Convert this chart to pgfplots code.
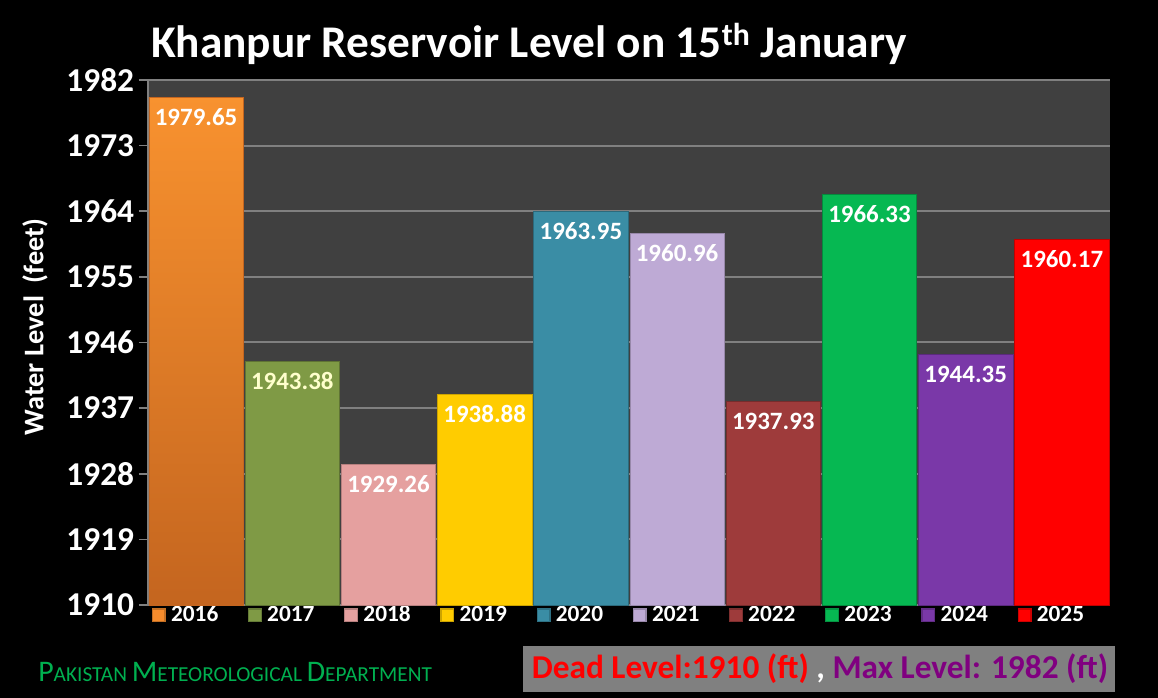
\documentclass[border=0pt]{standalone}
\usepackage{pgfplots}
\pgfplotsset{compat=1.18}
\usepackage{fontspec}
\setmainfont{Carlito}
\definecolor{plotbg}{HTML}{404040}
\definecolor{gridgray}{HTML}{808080}
\definecolor{c16}{HTML}{F58B2C}
\definecolor{c16t}{HTML}{F8922F}
\definecolor{c16b}{HTML}{C4651F}
\definecolor{c17}{HTML}{7F9A45}
\definecolor{c18}{HTML}{E5A09F}
\definecolor{c19}{HTML}{FFCC00}
\definecolor{c20}{HTML}{3A8DA5}
\definecolor{c21}{HTML}{BEAAD5}
\definecolor{c22}{HTML}{9E3B3B}
\definecolor{c23}{HTML}{06B852}
\definecolor{c24}{HTML}{7A38A8}
\definecolor{c25}{HTML}{FF0000}
\definecolor{pmdgreen}{HTML}{00B050}
\definecolor{boxgray}{HTML}{808080}
\definecolor{maxpurple}{HTML}{800080}
\definecolor{cream}{HTML}{FFFFCC}
\newcommand{\key}[1]{\textcolor{#1!80!black}{\rule{10.5pt}{10.5pt}}\hspace{-9.5pt}\raisebox{0.5pt}{\textcolor{#1}{\rule{8.5pt}{8.5pt}}}\hspace{5pt}}
\begin{document}
\begin{tikzpicture}
\useasboundingbox (0pt,0pt) rectangle (868.5pt,523.5pt);
\fill[black] (0pt,0pt) rectangle (868.5pt,523.5pt);
\begin{axis}[
  at={(111pt,69.75pt)}, anchor=south west, scale only axis,
  width=721.5pt, height=393.75pt,
  xmin=-0.5, xmax=9.5, ymin=1910, ymax=1982,
  ytick={1910,1919,1928,1937,1946,1955,1964,1973,1982},
  yticklabels={1910,1919,1928,1937,1946,1955,1964,1973,1982},
  xtick={0,1,2,3,4,5,6,7,8,9},
  xticklabels={{\key{c16}2016},{\key{c17}2017},{\key{c18}2018},{\key{c19}2019},{\key{c20}2020},{\key{c21}2021},{\key{c22}2022},{\key{c23}2023},{\key{c24}2024},{\key{c25}2025}},
  axis background/.style={fill=plotbg},
  axis x line*=bottom, axis y line*=left,
  axis line style={gridgray, line width=1.2pt, -},
  ymajorgrids, grid style={gridgray, line width=1.5pt},
  ytick align=outside, major tick length=6.75pt,
  ytick style={gridgray, line width=1.2pt},
  xtick style={draw=none},
  every y tick label/.append style={text=white, inner sep=0pt, xshift=-3.5pt, font=\fontsize{25}{27}\selectfont\bfseries},
  xticklabel style={anchor=base west, xshift=-33.5pt, yshift=-12.75pt, inner sep=0pt, text=white, font=\fontsize{17.5}{18}\selectfont\bfseries},
  ylabel={Water Level\ \ (feet)},
  ylabel style={at={(axis description cs:-0.1175,0.5295)}, anchor=center, rotate=0, text=white, font=\fontsize{21.3}{23}\selectfont\bfseries},
  clip=false,
  every node near coord/.append style={anchor=base, yshift=-21pt, text=white, font=\fontsize{18.7}{20}\selectfont\bfseries},
  point meta=explicit symbolic,
]
\addplot[ybar, bar width=0.98, bar shift=0pt, top color=c16t, bottom color=c16b, draw=c16b, nodes near coords] coordinates {(0,1979.65) [1979.65]};
\addplot[ybar, bar width=0.98, bar shift=0pt, fill=c17, draw=c17!75!black, nodes near coords, every node near coord/.append style={text=cream}] coordinates {(1,1943.38) [1943.38]};
\addplot[ybar, bar width=0.98, bar shift=0pt, fill=c18, draw=c18!80!black, nodes near coords] coordinates {(2,1929.26) [1929.26]};
\addplot[ybar, bar width=0.98, bar shift=0pt, fill=c19, draw=c19!80!black, nodes near coords] coordinates {(3,1938.88) [1938.88]};
\addplot[ybar, bar width=0.98, bar shift=0pt, fill=c20, draw=c20!75!black, nodes near coords] coordinates {(4,1963.95) [1963.95]};
\addplot[ybar, bar width=0.98, bar shift=0pt, fill=c21, draw=c21!80!black, nodes near coords] coordinates {(5,1960.96) [1960.96]};
\addplot[ybar, bar width=0.98, bar shift=0pt, fill=c22, draw=c22!75!black, nodes near coords] coordinates {(6,1937.93) [1937.93]};
\addplot[ybar, bar width=0.98, bar shift=0pt, fill=c23, draw=c23!75!black, nodes near coords] coordinates {(7,1966.33) [1966.33]};
\addplot[ybar, bar width=0.98, bar shift=0pt, fill=c24, draw=c24!75!black, nodes near coords] coordinates {(8,1944.35) [1944.35]};
\addplot[ybar, bar width=0.98, bar shift=0pt, fill=c25, draw=c25!75!black, nodes near coords] coordinates {(9,1960.17) [1960.17]};
\end{axis}
\node[anchor=base, text=white, inner sep=0pt, font=\fontsize{34}{38}\selectfont\bfseries] at (396.75pt,480pt) {Khanpur Reservoir Level on 15\textsuperscript{th} January};
\node[anchor=base west, text=pmdgreen, inner sep=0pt] at (28.5pt,12pt) {\fontsize{22.4}{24}\selectfont P\fontsize{16}{18}\selectfont AKISTAN \fontsize{22.4}{24}\selectfont M\fontsize{16}{18}\selectfont ETEOROLOGICAL \fontsize{22.4}{24}\selectfont D\fontsize{16}{18}\selectfont EPARTMENT};
\fill[boxgray] (392.25pt,4.5pt) rectangle (836.25pt,39pt);
\node[anchor=base, inner sep=0pt, font=\fontsize{25}{28}\selectfont\bfseries] at (615pt,14.25pt) {\textcolor{c25}{Dead Level:1910 (ft)} \textcolor{white}{,} \textcolor{maxpurple}{Max Level: 1982 (ft)}};
\end{tikzpicture}
\end{document}
